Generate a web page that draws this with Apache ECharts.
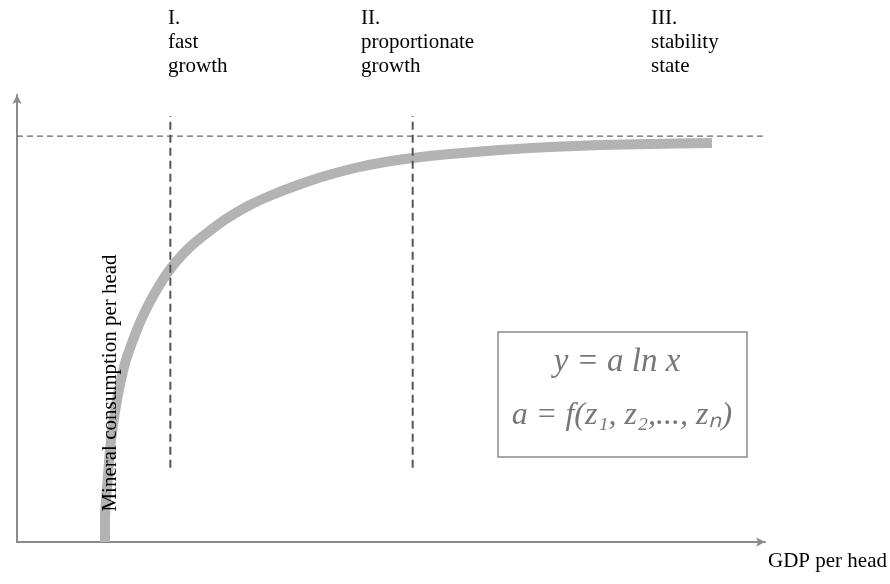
<!DOCTYPE html>
<html>
<head>
<meta charset="utf-8">
<script src="https://cdn.jsdelivr.net/npm/echarts@6/dist/echarts.min.js"></script>
<style>html,body{margin:0;padding:0;background:#fff}#c{width:890px;height:584px}</style>
</head>
<body>
<div id="c"></div>
<script>
// Curve (GDP per head -> mineral consumption per head), arbitrary 0-100 units
const gdp = [11.76, 11.76, 11.90, 12.17, 12.43, 12.83, 13.37, 13.90, 14.57, 15.51, 16.58, 17.91, 19.39, 21.12, 23.13, 25.40, 27.94, 30.88, 34.09, 37.57, 41.18, 45.19, 49.20, 52.94, 57.89, 64.57, 71.26, 77.94, 84.63, 92.91];
const consumption = [0, 4.92, 9.40, 14.99, 20.58, 26.17, 31.77, 36.24, 40.72, 45.19, 49.66, 54.14, 58.39, 62.42, 66.00, 69.13, 72.26, 75.17, 77.63, 79.87, 81.88, 83.67, 85.01, 85.91, 86.80, 87.70, 88.37, 88.81, 89.04, 89.26];
const stageBoundaries = [20.5, 52.9];
const boundarySpan = [16.6, 95.3];
const saturationLevel = 90.8;
const saturationSpan = [0, 99.7];
const stageLabels = ['I.\nfast\ngrowth', 'II.\nproportionate\ngrowth', 'III.\nstability\nstate'];
const xName = 'GDP per head';
const yName = 'Mineral consumption per head';
const formulaLines = ['y = a ln x', 'a = f(z\u2081, z\u2082,..., z\u2099)'];

const chart = echarts.init(document.getElementById('c'));
const curve = gdp.map((x, i) => [x, consumption[i]]);
const series = [
  {
    type: 'line', data: curve, showSymbol: false, smooth: 0.3, z: 2,
    lineStyle: { color: '#b3b3b3', width: 10, cap: 'butt' }
  },
  {
    type: 'line', data: [[saturationSpan[0], saturationLevel], [saturationSpan[1], saturationLevel]],
    showSymbol: false, z: 3,
    lineStyle: { color: '#666', width: 1.3, type: [6, 4] }
  }
];
stageBoundaries.forEach(b => series.push({
  type: 'line', data: [[b, boundarySpan[0]], [b, boundarySpan[1]]], showSymbol: false, z: 3,
  lineStyle: { color: '#555', width: 2, type: [8, 5] }
}));

const serif = '"Liberation Serif", "Times New Roman", serif';
const stageX = [168, 361, 651];
const graphics = stageLabels.map((t, i) => ({
  type: 'text', left: stageX[i], top: 6,
  style: { text: t, font: '21px ' + serif, fill: '#000', lineHeight: 24 }
}));
graphics.push({
  type: 'text', x: 768, y: 561,
  style: { text: xName, font: '21px ' + serif, fill: '#000', verticalAlign: 'middle', align: 'left' }
});
graphics.push({
  type: 'text', x: 110, y: 383, rotation: Math.PI / 2, z: 10,
  style: { text: yName, font: '21px ' + serif, fill: '#000', align: 'center', verticalAlign: 'middle' }
});
graphics.push({
  type: 'rect', shape: { x: 498, y: 332, width: 249, height: 125 },
  style: { fill: '#fff', stroke: '#8a8a8a', lineWidth: 1.5 }
});
graphics.push({
  type: 'text', x: 617, y: 362,
  style: { text: formulaLines[0], font: 'italic 33px ' + serif, fill: '#777', align: 'center', verticalAlign: 'middle' }
});
graphics.push({
  type: 'text', x: 622, y: 416,
  style: { text: formulaLines[1], font: 'italic 32px ' + serif, fill: '#777', align: 'center', verticalAlign: 'middle' }
});

chart.setOption({
  animation: false,
  grid: { left: 17, width: 748, top: 95, height: 447, containLabel: false },
  xAxis: {
    type: 'value', min: 0, max: 100,
    axisLine: { show: true, onZero: false, symbol: ['none', 'arrow'], symbolSize: [7, 9], lineStyle: { color: '#8a8a8a', width: 2 } },
    axisTick: { show: false }, axisLabel: { show: false }, splitLine: { show: false }
  },
  yAxis: {
    type: 'value', min: 0, max: 100,
    axisLine: { show: true, onZero: false, symbol: ['none', 'arrow'], symbolSize: [7, 9], lineStyle: { color: '#8a8a8a', width: 2 } },
    axisTick: { show: false }, axisLabel: { show: false }, splitLine: { show: false }
  },
  series: series,
  graphic: graphics
});
</script>
</body>
</html>
